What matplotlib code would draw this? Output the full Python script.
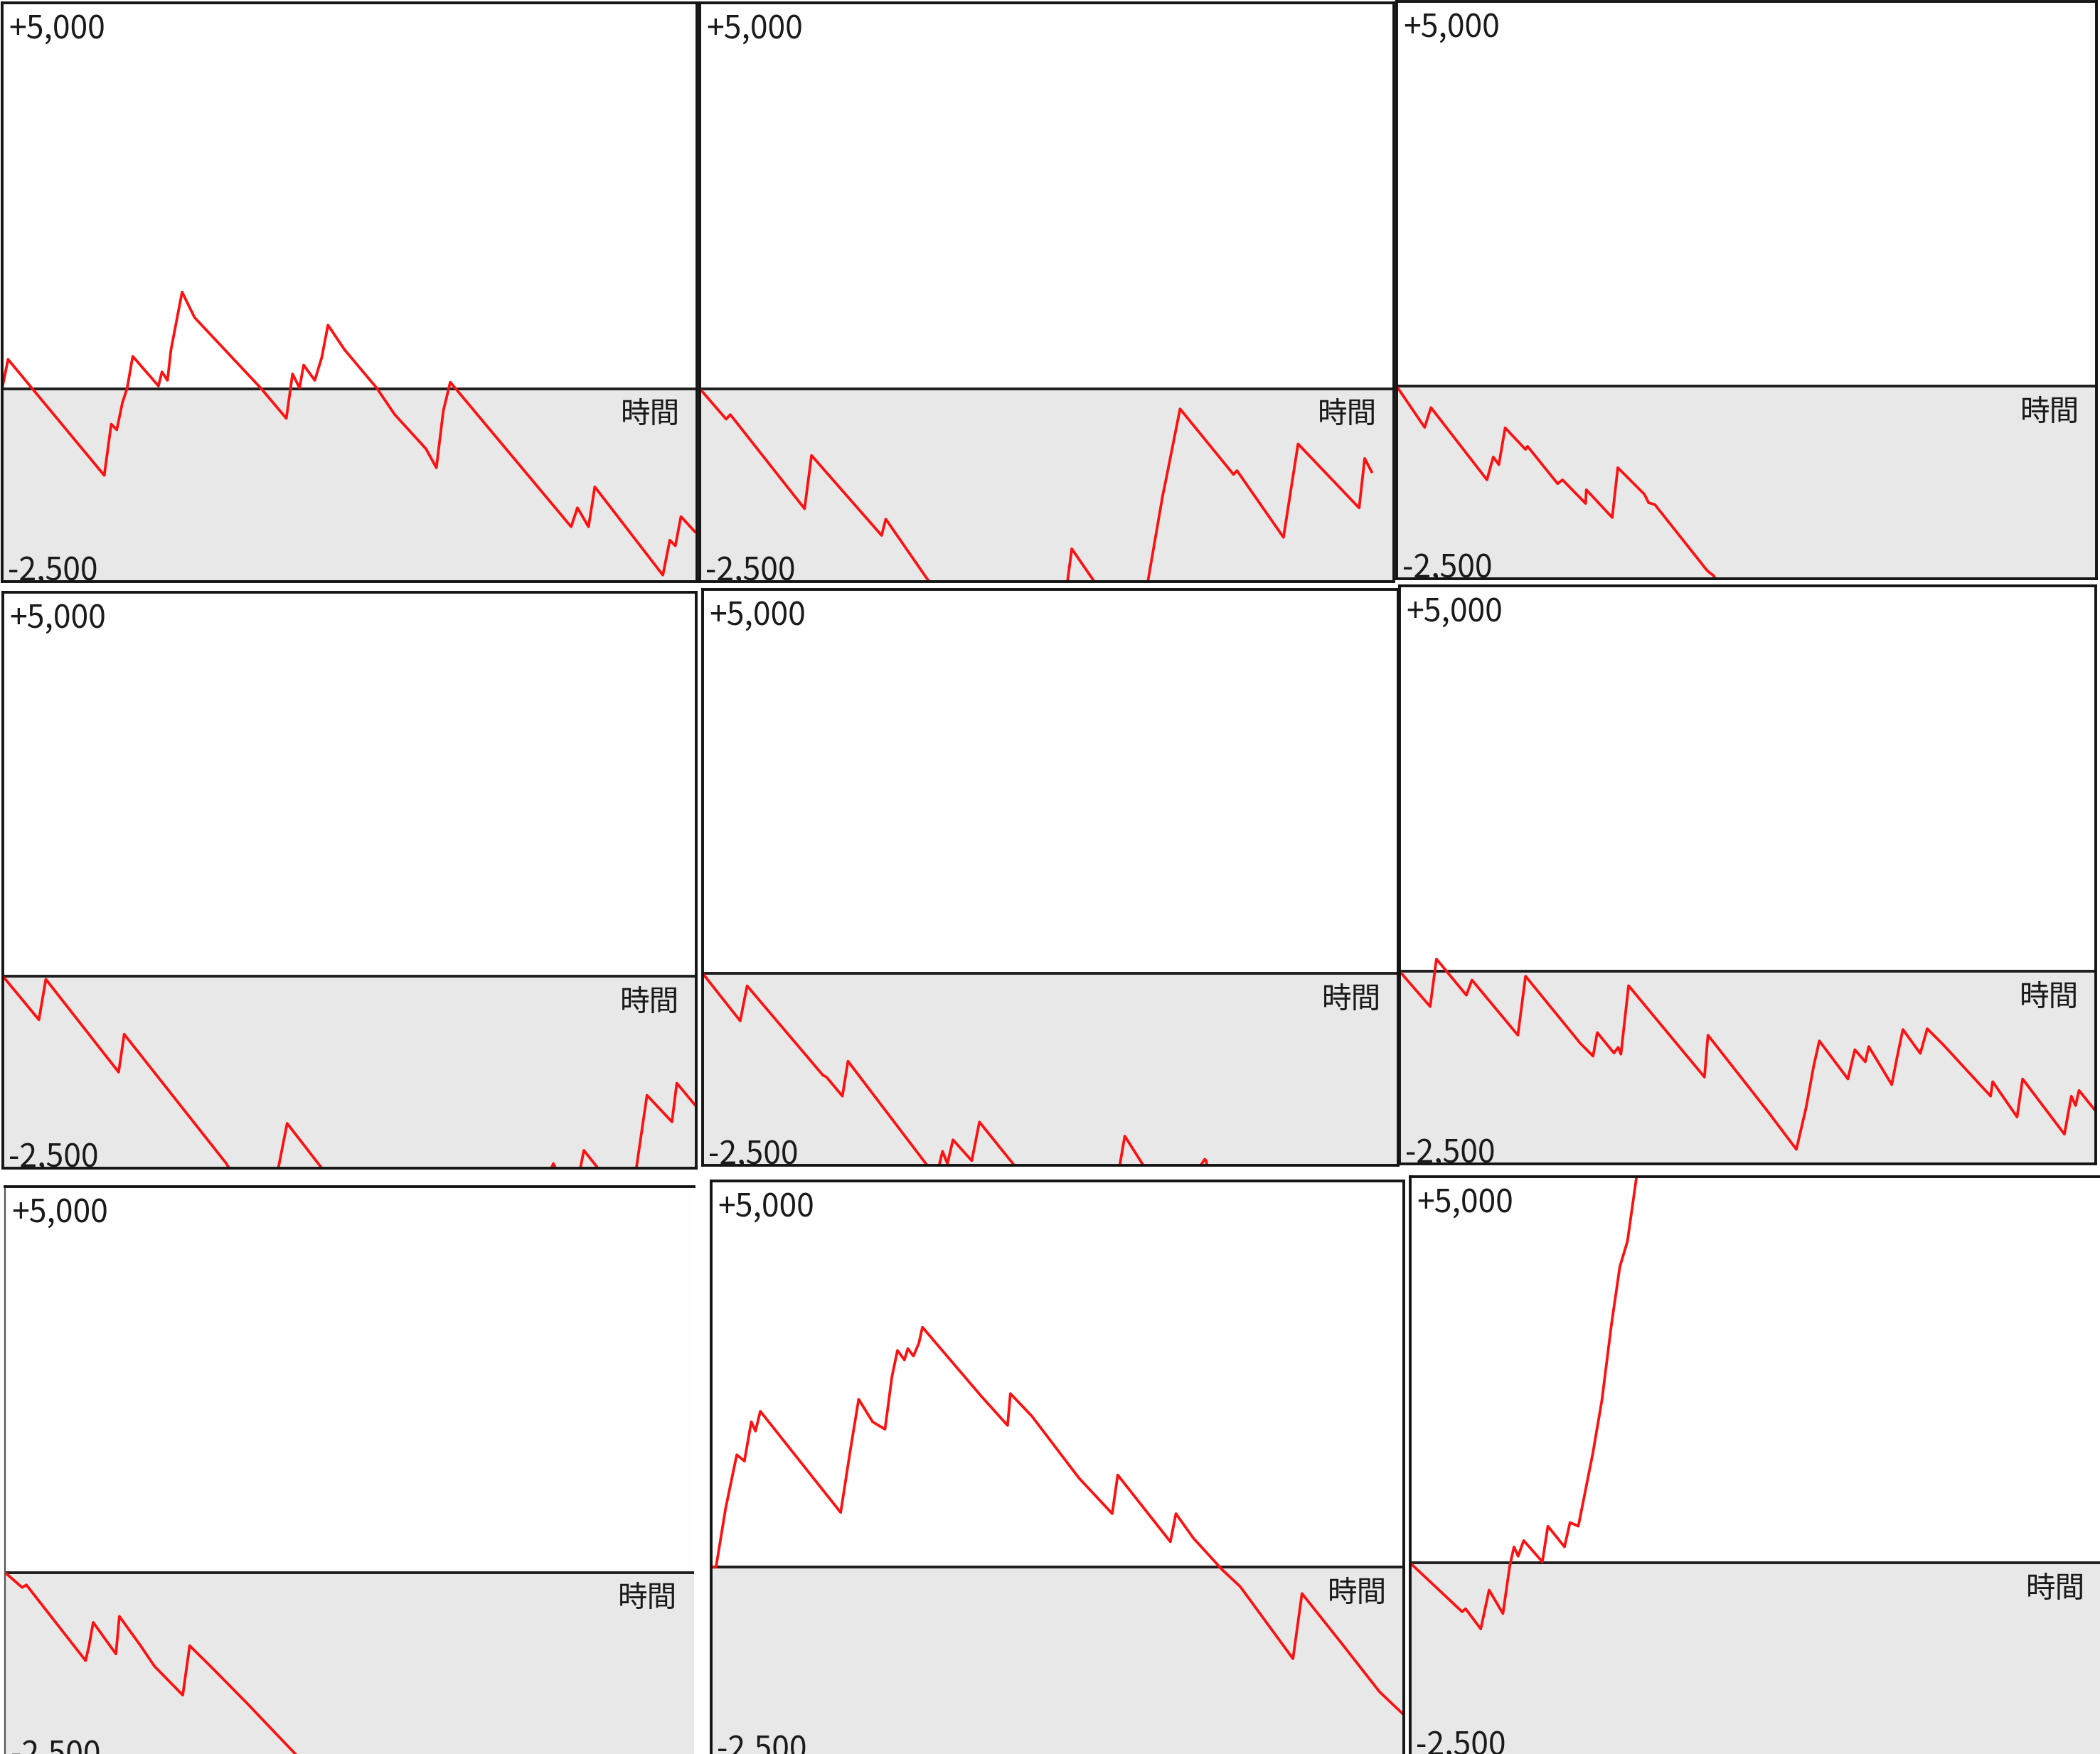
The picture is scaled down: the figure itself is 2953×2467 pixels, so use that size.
import matplotlib
matplotlib.use("Agg")
import matplotlib.pyplot as plt

plt.rcParams["font.family"] = ["Noto Sans CJK JP", "DejaVu Sans"]

Y_MIN = -2500
Y_MAX = 5000
TOP_LABEL = "+5,000"
BOTTOM_LABEL = "-2,500"
TIME_LABEL = "時間"

# time (0-100 across each panel) and profit values
A_T = [0, 0.85, 14.7, 15.7, 16.5, 17.3, 18.0, 18.8, 22.5, 23.0, 23.8, 24.3, 25.9, 27.7,
       37.2, 40.9, 41.8, 42.8, 43.4, 45.0, 46.0, 46.9, 49.3, 53.9, 56.5, 61.0, 62.5,
       63.5, 64.5, 81.9, 82.8, 84.4, 85.3, 95.1, 96.1, 96.9, 97.7, 99.7]
A_V = [0, 380, -1124, -459, -533, -187, 10, 419, 35, 217, 108, 503, 1252, 922,
       10, -385, 192, 10, 306, 108, 404, 824, 503, 10, -335, -779, -1026,
       -286, 84, -1790, -1543, -1790, -1272, -2416, -1963, -2037, -1657, -1854]

B_T = [0, 3.8, 4.4, 15.1, 16.1, 26.2, 26.8, 32.8, 42.0, 52.9, 53.6, 57.0, 61.0, 64.5,
       66.7, 67.1, 69.2, 76.9, 77.4, 84.1, 86.2, 95.0, 95.8, 96.8]
B_V = [0, -395, -336, -1556, -865, -1902, -1690, -2470, -3400, -2550, -2075, -2520, -3000, -2530,
       -1383, -1210, -262, -1112, -1062, -1927, -716, -1546, -904, -1077]

C_T = [0, 4.0, 4.9, 12.9, 13.8, 14.6, 15.5, 18.4, 18.7, 23.0, 23.7, 27.0, 27.1, 30.8,
       31.6, 35.4, 36.0, 36.9, 44.3, 44.7, 45.3, 46.0]
C_V = [0, -534, -276, -1215, -919, -1018, -539, -820, -780, -1265, -1215, -1522, -1344, -1705,
       -1057, -1403, -1512, -1537, -2386, -2420, -2460, -2600]

D_T = [0, 5.2, 6.2, 16.7, 17.5, 32.2, 36.0, 39.6, 41.0, 46.0, 60.0, 79.0, 79.4, 80.0,
       83.2, 83.8, 86.0, 89.0, 91.3, 92.9, 96.5, 97.2, 99.8]
D_V = [0, -568, -40, -1250, -756, -2436, -3000, -2560, -1917, -2500, -3500, -2520, -2440, -2560,
       -2540, -2268, -2520, -2900, -2540, -1551, -1897, -1393, -1675]

E_T = [0, 5.4, 6.4, 17.3, 17.8, 20.1, 20.9, 32.2, 33.0, 33.9, 34.5, 35.2, 36.0, 38.7,
       39.8, 44.9, 52.0, 59.9, 60.7, 63.5, 68.0, 72.2, 72.4, 72.7, 100]
E_V = [0, -619, -163, -1327, -1350, -1599, -1144, -2490, -2700, -2540, -2317, -2480, -2168, -2440,
       -1936, -2510, -3200, -2540, -2119, -2520, -3000, -2420, -2440, -2600, -4000]

F_T = [0, 4.4, 5.3, 9.6, 10.4, 17.0, 18.1, 26.0, 27.8, 28.4, 30.8, 31.4, 31.8, 32.9,
       43.8, 44.3, 52.8, 57.0, 58.4, 59.5, 60.3, 64.4, 65.4, 66.9, 67.4, 70.7, 71.5,
       72.3, 74.8, 75.8, 78.1, 84.9, 85.2, 88.7, 89.5, 95.5, 96.5, 97.1, 97.6, 99.8]
F_V = [0, -459, 158, -311, -114, -830, -64, -939, -1102, -796, -1062, -988, -1077, -188,
       -1374, -830, -1808, -2312, -1769, -1225, -904, -1398, -1018, -1176, -978, -1472, -1102,
       -756, -1067, -746, -954, -1621, -1433, -1892, -1398, -2115, -1621, -1744, -1547, -1794]

G_T = [0, 2.5, 3.1, 11.7, 12.2, 12.8, 16.1, 16.6, 19.6, 21.7, 25.8, 26.8, 30.1, 35.2,
       42.1, 50.0]
G_V = [0, -195, -161, -1143, -949, -647, -1056, -569, -939, -1216, -1590, -949, -1240, -1702,
       -2349, -3100]

H_T = [0, 0.7, 2.1, 3.0, 3.7, 4.8, 5.8, 6.4, 7.1, 18.7, 20.1, 21.3, 23.3, 25.1, 26.1,
       26.9, 27.9, 28.4, 29.2, 30.0, 30.5, 39.0, 42.8, 43.2, 46.3, 53.1, 57.9, 58.7,
       66.3, 67.1, 69.6, 73.8, 76.4, 84.0, 85.3, 90.9, 96.5, 100]
H_V = [0, 0, 767, 1155, 1456, 1374, 1883, 1762, 2019, 709, 1519, 2175, 1883, 1786, 2466,
       2806, 2684, 2830, 2733, 2903, 3107, 2214, 1835, 2248, 1956, 1155, 694, 1194,
       330, 694, 379, -34, -252, -1184, -340, -971, -1612, -1910]

I_T = [0, 3.0, 7.5, 8.0, 10.2, 11.4, 13.4, 14.4, 15.0, 15.6, 16.4, 19.1, 19.9, 22.3,
       23.1, 24.3, 26.4, 27.7, 29.1, 30.3, 31.4, 32.7, 34.0]
I_V = [0, -252, -631, -592, -854, -350, -655, -34, 209, 87, 291, 15, 476, 209,
       524, 476, 1422, 2102, 3097, 3835, 4165, 4990, 5600]

panels = [(A_T, A_V), (B_T, B_V), (C_T, C_V),
          (D_T, D_V), (E_T, E_V), (F_T, F_V),
          (G_T, G_V), (H_T, H_V), (I_T, I_V)]

# screenshot tiles are not on an exact grid: left, right, top, bottom in pixels
boxes = [(3, 980, 4, 818), (984, 1960, 4, 818), (1964, 2948, 2, 814),
         (4, 979, 833, 1643), (988, 1966, 829, 1639), (1968, 2947, 824, 1637),
         (7, 976, 1669, 2483), (1000, 1974, 1661, 2476), (1983, 2956, 1655, 2470)]

W, H = 2953, 2467
fig = plt.figure(figsize=(W / 100, H / 100), dpi=100, facecolor="white")

for i, ((t, v), (l, r, top, b)) in enumerate(zip(panels, boxes)):
    ax = fig.add_axes([l / W, 1 - b / H, (r - l) / W, (b - top) / H])
    ax.set_xlim(0, 100)
    ax.set_ylim(Y_MIN, Y_MAX)
    ax.set_facecolor("#fefefe")
    ax.axhspan(Y_MIN, 0, color="#e8e8e8", lw=0, zorder=0)
    ax.axhline(0, color="#1e1e1e", lw=2.8, zorder=2)
    ax.plot(t, v, color="#ff1010", lw=2.7, zorder=3)
    ax.set_xticks([])
    ax.set_yticks([])
    for s in ax.spines.values():
        s.set_linewidth(2.8)
        s.set_color("#141414")
        s.set_zorder(4)
    if i == 6:
        ax.spines["right"].set_visible(False)
        ax.spines["left"].set_linewidth(1.6)
        ax.spines["left"].set_color("#555555")

    ax.annotate(TOP_LABEL, xy=(0, 1), xycoords="axes fraction", xytext=(7, -10),
                textcoords="offset points", ha="left", va="top", fontsize=32,
                color="#1a1a1a")
    ax.annotate(BOTTOM_LABEL, xy=(0, 0), xycoords="axes fraction", xytext=(6, 1.5),
                textcoords="offset points", ha="left", va="baseline", fontsize=32,
                color="#1a1a1a", annotation_clip=False, clip_on=True)
    ax.annotate(TIME_LABEL, xy=(1, 0), xycoords=("axes fraction", "data"), xytext=(-17, -12),
                textcoords="offset points", ha="right", va="top", fontsize=30,
                color="#1a1a1a")

fig.savefig("out.png", dpi=100, facecolor="white")
